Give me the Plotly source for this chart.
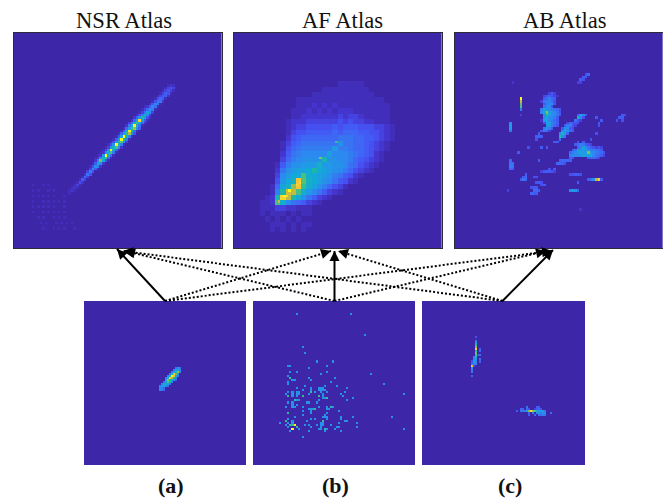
import math
import plotly.graph_objects as go

DIGITS = "0123456789abcdefghijklmnopqrstuvwxyz"
GRID = 80
TITLES = ["NSR Atlas", "AF Atlas", "AB Atlas"]
LABELS = ["(a)", "(b)", "(c)"]

NSR_ROWS = [
    (19,59,"121"),(20,58,"13431"),(21,57,"13431"),(22,56,"13541"),(23,55,"13552"),(24,54,"14651"),
    (25,53,"14772"),(26,52,"15871"),(27,50,"125971"),(28,49,"136a81"),(29,48,"137c93"),
    (30,47,"148ea3"),(31,46,"25ahc41"),(32,45,"26cwd51"),(33,44,"37ejc62"),(34,43,"27dyf71"),
    (35,42,"16cjob5"),(36,41,"15czf71"),(37,40,"16cipa4"),(38,39,"15czh81"),(39,38,"15czi81"),
    (40,37,"14bgla3"),(41,36,"14azf81"),(42,35,"13afk92"),(43,34,"13azf61"),(44,33,"12aek81"),
    (45,32,"12bzd61"),(46,31,"129fj61"),(47,31,"28ne41"),(48,30,"15da2"),(49,29,"14a82"),
    (50,29,"3951"),(51,28,"384"),(52,27,"274"),(53,26,"163"),(54,25,"153"),(55,24,"142"),
    (56,23,"131"),(57,22,"121"),(58,21,"121"),(59,20,"010"),
    (56,7,"1000101"),(58,7,"1010001010"),(60,7,"1010101010001"),(62,7,"1000101010101"),
    (64,7,"1010101010001"),(66,7,"1000101010101"),(68,7,"0010100010101"),
    (70,7,"0001010001010101"),(72,9,"0010001010100010"),
]

AF_COARSE = [
    "0",
    "000000000000000011111",
    "0000000000000111111111",
    "00000000000111111111111",
    "0000000011111111111111111",
    "00000000111212121111111111",
    "00000001112121212221111111",
    "00000001122222223233211111",
    "00000012223333334343322111",
    "000000123344444545554443321",
    "000000134455555656665544321",
    "000000245666666677766554321",
    "00000" + "13567777777a" + "776654321",
    "00000" + "1467888888b8" + "87665" + "4321",
    "00000" + "257899999c" + "9998765421",
    "00000" + "36899aaag" + "aa9986" + "54321",
    "0000158aabbbf" + "bbaa97" + "64321",
    "000027abccdh" + "dcba9864321",
    "000039bddkedcba875421",
    "00004adfulfdca975421",
    "00016cfoujeca86431",
    "00018hrqkeb975321",
    "0012gwqhda75321",
    "0112ke9765321",
    "01113322111",
    "01011101011",
    "0010101010",
    "00011101011",
    "00010101010",
]
AF_PEAKS = [(60,19,"z"),(58,21,"z"),(62,17,"q"),(60,20,"w"),(56,24,"w"),(55,25,"w"),(46,33,"n"),(40,39,"j")]

AB_ROWS = [
    (15,50,"46"),(16,49,"55"),(17,48,"54"),(18,47,"33"),(18,22,"2"),(22,36,"353"),(23,34,"355432"),
    (24,25,"z"),(24,34,"56865"),(25,25,"q"),(25,33,"378874"),(26,25,"l"),(26,34,"58995"),
    (27,25,"k"),(27,34,"7995"),(28,25,"8"),(28,33,"8ca98764"),(29,33,"9dnca974"),(30,25,"3"),
    (30,34,"9ic9975"),(30,47,"5b95"),(30,64,"54"),(31,34,"ad9985"),(31,47,"g94"),(31,54,"5"),(31,63,"55"),
    (32,33,"2bc9865"),(32,46,"743"),(32,56,"5"),(32,62,"404"),(33,21,"9"),(33,34,"4bc875"),(33,43,"36544"),
    (33,55,"5"),(34,21,"c"),(34,35,"bb864"),(34,42,"58843"),(34,55,"4"),(35,21,"b"),(35,34,"8985"),
    (35,41,"5a954"),(36,21,"7"),(36,33,"5763"),(36,41,"9ca65"),(37,32,"5"),(37,40,"9gb6"),(37,54,"4"),
    (38,31,"565"),(38,40,"ha7"),(39,31,"4"),(39,40,"7"),(39,52,"4"),(40,38,"55"),(40,47,"405"),
    (41,46,"5687543"),(42,28,"4"),(42,33,"505"),(42,47,"68c9754343"),(43,45,"57cabb988765"),
    (44,24,"5"),(44,44,"689bcbbnb98764"),(45,44,"8999acbbd97653"),(46,44,"54"),(46,51,"56653"),
    (47,21,"6"),(47,32,"5"),(47,40,"56665"),(48,21,"77"),(48,39,"6654"),(49,21,"87"),(50,21,"65"),
    (50,36,"405"),(51,33,"355543"),(52,27,"5"),(52,44,"44554"),(53,26,"56"),(53,30,"44"),
    (54,25,"576"),(54,51,"579pv5"),(55,31,"454"),(55,47,"5"),(56,33,"45"),(57,29,"455"),
    (58,20,"3"),(58,30,"665"),(58,44,"9ba6"),(59,29,"655"),(65,48,"2"),
]

A_ROWS = [
    (32,45,"7a7"),(33,44,"8cb9"),(34,43,"8dhpa"),(35,42,"9ftma"),(36,41,"9hzub8"),(37,40,"8guph9"),
    (38,40,"cniba5"),(39,39,"7ckh9"),(40,38,"9cfb7"),(41,37,"8bd97"),(42,37,"a86"),(43,37,"976"),
]

B_BLUE_CELLS = [
    (6,21),(6,48),(16,55),(22,24),(25,25),(29,31),(31,36),(29,39),(31,17),(31,18),(32,27),(34,18),(34,21),
    (35,33),(34,36),(35,58),(36,17),(37,27),(38,28),(37,40),(38,19),(38,20),(39,17),(40,17),(39,38),(40,64),
    (41,25),(41,35),(41,41),(42,21),(42,32),(42,33),(42,34),(42,28),(43,28),(42,46),(43,24),(43,32),(43,33),
    (43,34),(43,35),(44,17),(44,19),(45,19),(46,19),(44,21),(44,22),(45,21),(45,22),(46,21),(45,27),(44,30),
    (44,33),(44,36),(44,45),(45,16),(45,43),(45,34),(46,34),(47,34),(45,74),(46,44),(47,35),(47,49),(48,21),
    (48,22),(48,32),(48,46),(49,17),(49,19),(50,19),(51,19),(49,26),(49,27),(49,31),(50,21),(51,16),(51,20),
    (51,24),(51,32),(51,36),(51,39),(52,36),(52,37),(52,27),(52,28),(52,29),(53,28),(54,28),(53,24),(53,42),
    (54,36),(55,35),(55,24),(56,20),(56,34),(56,35),(56,36),(56,43),(57,43),(56,49),(56,68),(57,17),(57,28),
    (57,30),(57,36),(58,19),(59,19),(58,26),(59,33),(60,33),(61,33),(62,33),(59,34),(60,34),(58,45),(58,46),
    (59,13),(59,17),(59,51),(59,42),(60,16),(60,25),(60,27),(60,31),(60,38),(61,28),(61,41),(61,42),(61,51),
    (62,22),(61,17),(62,32),(62,36),(62,40),(62,74),(63,18),(63,27),(63,35),(63,43),(66,24),
]
B_GREEN_CELLS = [
    (37,18),(44,28),(46,17),(46,24),(46,32),(47,36),(48,20),(51,38),(52,30),(54,17),(58,16),(58,34),
    (60,18),(60,19),(61,21),(62,35),
]
B_BRIGHT_CELLS = [(62,19),(60,20)]

C_ROWS = [
    (17,26,"4"),(19,26,"7"),(20,26,"e"),(21,26,"i"),(22,26,"n"),(23,26,"v05"),(24,26,"i06"),(25,26,"m"),
    (26,26,"j46"),(27,25,"8h"),(28,25,"ab06"),(29,24,"4b905"),(30,24,"789"),(31,24,"u4"),(32,24,"a"),
    (33,24,"8"),(34,24,"7"),(36,24,"6"),
    (51,51,"7"),(51,56,"55"),(52,48,"66064"),(52,55,"3564"),(53,46,"50778bnxplebcb7"),
    (54,52,"5"),(54,54,"8"),(54,56,"9a8aa"),(54,63,"6"),(55,52,"5"),(55,55,"6"),(55,57,"7687"),
]


def blank():
    return [[0] * GRID for _ in range(GRID)]


def from_rows(rows):
    z = blank()
    for row, col, text in rows:
        for i, ch in enumerate(text):
            z[row][col + i] = DIGITS.index(ch)
    return z


def from_coarse(rows, peaks):
    z = blank()
    for j, text in enumerate(rows):
        for i, ch in enumerate(text):
            v = DIGITS.index(ch)
            for r in (16 + 2 * j, 17 + 2 * j):
                for c in (8 + 2 * i, 9 + 2 * i):
                    z[r][c] = v
    for r, c, ch in peaks:
        z[r][c] = DIGITS.index(ch)
    return z


def from_cells(blue, green, bright):
    z = blank()
    for cells, v in ((blue, 10), (green, 19), (bright, 35)):
        for r, c in cells:
            z[r][c] = v
    return z


PARULA = [
    [0.0, "#3e26a8"], [0.06, "#4436d0"], [0.125, "#4654f6"], [0.25, "#2e87f0"], [0.375, "#12abd8"],
    [0.5, "#1cbaa0"], [0.625, "#66c26a"], [0.75, "#c8ba40"], [0.875, "#fcc435"], [1.0, "#f9fb15"],
]
W, H = 663, 500


def px(x):
    return x / W


def py(y):
    return 1 - y / H


panels = [
    (from_rows(NSR_ROWS), 13.5, 221.5, 32.5, 248, True),
    (from_coarse(AF_COARSE, AF_PEAKS), 233.5, 441.5, 32.5, 248, True),
    (from_rows(AB_ROWS), 454.5, 662.5, 32.5, 248, True),
    (from_rows(A_ROWS), 84, 246, 301, 465, False),
    (from_cells(B_BLUE_CELLS, B_GREEN_CELLS, B_BRIGHT_CELLS), 253, 415, 301, 465, False),
    (from_rows(C_ROWS), 422, 585, 301, 465, False),
]

fig = go.Figure()
for k, (z, x0, x1, y0, y1, framed) in enumerate(panels):
    suffix = "" if k == 0 else str(k + 1)
    fig.add_trace(go.Heatmap(z=z, colorscale=PARULA, zmin=0, zmax=35, showscale=False,
                             xaxis="x" + suffix, yaxis="y" + suffix, hoverinfo="skip"))
    fig.update_layout({
        "xaxis" + suffix: dict(domain=[px(x0), px(x1)], range=[-0.5, GRID - 0.5], visible=True, showticklabels=False,
                               ticks="", showgrid=False, zeroline=False, showline=framed, mirror=framed,
                               linecolor="#2b2b3a", linewidth=1, anchor="y" + suffix),
        "yaxis" + suffix: dict(domain=[py(y1), py(y0)], range=[GRID - 0.5, -0.5], visible=True, showticklabels=False,
                               ticks="", showgrid=False, zeroline=False, showline=framed, mirror=framed,
                               linecolor="#2b2b3a", linewidth=1, anchor="x" + suffix),
    })

annotations = []
for text, cx in zip(TITLES, (123.5, 342, 564.5)):
    annotations.append(dict(text=text, x=px(cx), y=py(28.5), xref="paper", yref="paper", showarrow=False,
                            xanchor="center", yanchor="bottom", yshift=-6,
                            font=dict(family="Liberation Serif", size=22.6, color="#111")))
for text, cx in zip(LABELS, (171, 335, 510)):
    annotations.append(dict(text="<b>%s</b>" % text, x=px(cx), y=py(485), xref="paper", yref="paper", showarrow=False,
                            xanchor="center", yanchor="middle",
                            font=dict(family="Liberation Serif", size=22, color="#111")))

SOLID = [((165, 301), (117, 249)), ((334.5, 301), (334.5, 251)), ((502.5, 301), (553, 250))]
DOTTED = [
    ((165, 301), (331, 251)), ((165, 301), (552, 251)),
    ((334.5, 301), (125, 251)), ((334.5, 301), (546, 251)),
    ((502.5, 301), (123, 251)), ((502.5, 301), (338, 251)),
]
shapes = []
for (a, b) in SOLID + DOTTED:
    dashed = (a, b) in DOTTED
    shapes.append(dict(type="line", xref="paper", yref="paper", x0=px(a[0]), y0=py(a[1]), x1=px(b[0]), y1=py(b[1]),
                       line=dict(color="#000", width=2, dash="2px,2px" if dashed else "solid")))
    d = math.hypot(b[0] - a[0], b[1] - a[1])
    annotations.append(dict(x=px(b[0]), y=py(b[1]), xref="paper", yref="paper", text="", showarrow=True,
                            ax=(a[0] - b[0]) / d * 8, ay=(a[1] - b[1]) / d * 8, arrowhead=2, arrowsize=1,
                            arrowwidth=2, arrowcolor="#000"))

fig.update_layout(width=W, height=H, margin=dict(l=0, r=0, t=0, b=0), autosize=False, paper_bgcolor="white",
                  plot_bgcolor="#3e26a8", showlegend=False, annotations=annotations, shapes=shapes)
fig.write_html("out.html", config=dict(displayModeBar=False), post_script="document.body.style.margin='0';")
